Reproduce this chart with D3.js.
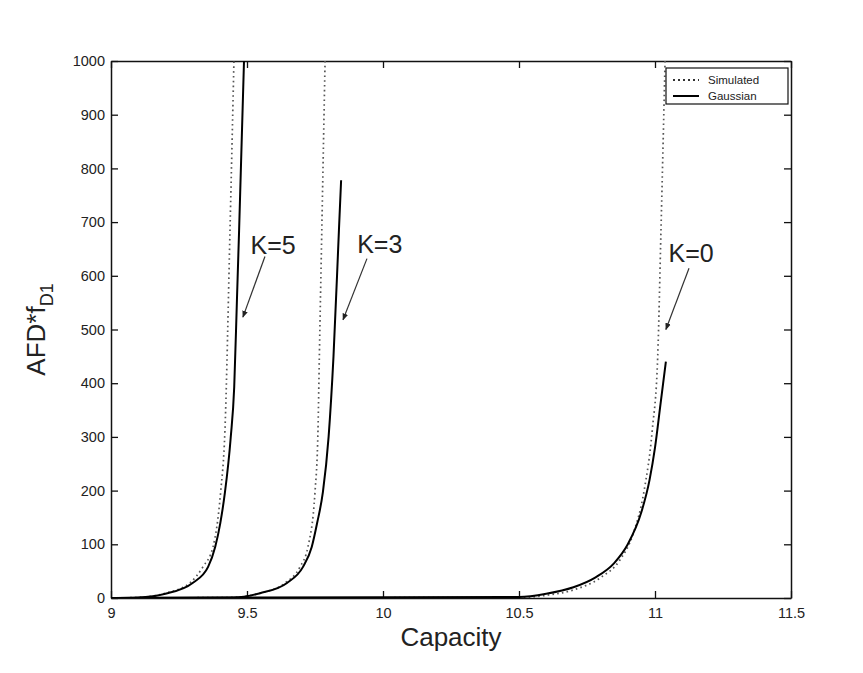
<!DOCTYPE html>
<html>
<head>
<meta charset="utf-8">
<script src="https://cdn.jsdelivr.net/npm/d3@7"></script>
<style>
  body { margin: 0; background: #fff; }
  svg { font-family: "Liberation Sans", Arial, sans-serif; }
  .axis path, .axis line { stroke: #111; }
  .axis text { fill: #222; font-size: 14.5px; }
</style>
</head>
<body>
<svg id="svg1" width="863" height="673"></svg>
<script>
// values
var capK5Gauss = [9.0, 9.1, 9.2, 9.3, 9.357, 9.383, 9.402, 9.419, 9.44, 9.453, 9.463, 9.471, 9.489];
var afdK5Gauss = [0, 1, 8, 28, 58, 95, 140, 197, 298, 393, 555, 685, 1000];
var capK5Sim = [9.0, 9.1, 9.2, 9.29, 9.338, 9.375, 9.403, 9.419, 9.4375, 9.452];
var afdK5Sim = [0, 1, 9, 28, 58, 95, 197, 313, 685, 1000];

var capK3Gauss = [9.0, 9.45, 9.548, 9.647, 9.706, 9.738, 9.758, 9.779, 9.8, 9.818, 9.838, 9.846];
var afdK3Gauss = [0, 1, 9, 28, 58, 95, 140, 197, 300, 450, 685, 778];
var capK3Sim = [9.0, 9.45, 9.548, 9.64, 9.695, 9.724, 9.75, 9.761, 9.766, 9.775, 9.787];
var afdK3Sim = [0, 1, 9, 28, 58, 95, 197, 313, 450, 685, 1000];

var capK0Gauss = [9.0, 10.5, 10.6, 10.7, 10.78, 10.85, 10.9, 10.95, 10.98, 11.0, 11.02, 11.04];
var afdK0Gauss = [0, 2, 8, 20, 38, 65, 100, 160, 220, 280, 360, 440];
var capK0Sim = [9.0, 10.5, 10.6, 10.7, 10.8, 10.87, 10.92, 10.96, 10.99, 11.01, 11.022, 11.037];
var afdK0Sim = [0, 1, 5, 15, 38, 70, 120, 200, 313, 450, 685, 1000];

var xTicks = [9, 9.5, 10, 10.5, 11, 11.5];
var yTicks = [0, 100, 200, 300, 400, 500, 600, 700, 800, 900, 1000];

var legendNames = ["Simulated", "Gaussian"];

// annotations: label, text position, arrow start, arrow tip (data units)
var noteLabels = ["K=5", "K=3", "K=0"];
var noteText = [[9.513, 640], [9.905, 642], [11.05, 626]];
var noteFrom = [[9.566, 636], [9.941, 632], [11.125, 614]];
var noteTip = [[9.485, 523], [9.853, 518], [11.04, 500]];

var translate = function(x, y) {
  return "translate(" + String(x) + ", " + String(y) + ")";
};

var zipSeries = function(xs, ys) {
  return xs.map(function(x, i) { return {x: x, y: ys[i]}; });
};

var svg = d3.select("svg#svg1");
var margin = {top: 61, left: 111};
var plotWidth = 680;
var plotHeight = 537;

var xScale = d3.scaleLinear().domain([9, 11.5]).range([0, plotWidth]);
var yScale = d3.scaleLinear().domain([0, 1000]).range([plotHeight, 0]);

var plot = svg.append("g")
  .attr("id", "plot")
  .attr("transform", translate(margin.left, margin.top));

plot.append("clipPath").attr("id", "clip")
  .append("rect").attr("width", plotWidth).attr("height", plotHeight);

/* axes, MATLAB box with inward ticks */
var fmt = function(d) { return String(d); };

plot.append("g").attr("class", "axis")
  .attr("transform", translate(0, plotHeight))
  .call(d3.axisBottom(xScale).tickValues(xTicks).tickFormat(fmt).tickSizeInner(-7).tickSizeOuter(0).tickPadding(10));

plot.append("g").attr("class", "axis")
  .call(d3.axisTop(xScale).tickValues(xTicks).tickFormat("").tickSizeInner(-7).tickSizeOuter(0));

plot.append("g").attr("class", "axis")
  .call(d3.axisLeft(yScale).tickValues(yTicks).tickFormat(fmt).tickSizeInner(-7).tickSizeOuter(0).tickPadding(6));

plot.append("g").attr("class", "axis")
  .attr("transform", translate(plotWidth, 0))
  .call(d3.axisRight(yScale).tickValues(yTicks).tickFormat("").tickSizeInner(-7).tickSizeOuter(0));

plot.selectAll(".axis path").attr("stroke-width", 1.5);
plot.selectAll(".axis line").attr("stroke-width", 1.3);

/* curves */
var line = d3.line()
  .x(function(d) { return xScale(d.x); })
  .y(function(d) { return yScale(d.y); })
  .curve(d3.curveMonotoneX);

var simulated = [zipSeries(capK5Sim, afdK5Sim), zipSeries(capK3Sim, afdK3Sim), zipSeries(capK0Sim, afdK0Sim)];
var gaussian = [zipSeries(capK5Gauss, afdK5Gauss), zipSeries(capK3Gauss, afdK3Gauss), zipSeries(capK0Gauss, afdK0Gauss)];

var curves = plot.append("g").attr("clip-path", "url(#clip)");

curves.selectAll("path.sim")
  .data(simulated)
  .enter()
  .append("path")
  .attr("class", "sim")
  .attr("d", line)
  .attr("fill", "none")
  .attr("stroke", "#555")
  .attr("stroke-width", 1.7)
  .attr("stroke-dasharray", "1.6,3.2");

curves.selectAll("path.gauss")
  .data(gaussian)
  .enter()
  .append("path")
  .attr("class", "gauss")
  .attr("d", line)
  .attr("fill", "none")
  .attr("stroke", "#000")
  .attr("stroke-width", 2);

/* annotations */
svg.append("defs").append("marker")
  .attr("id", "arrow")
  .attr("viewBox", "0 0 10 10")
  .attr("refX", 9).attr("refY", 5)
  .attr("markerWidth", 7).attr("markerHeight", 7)
  .attr("markerUnits", "userSpaceOnUse")
  .attr("orient", "auto")
  .append("path")
  .attr("d", "M0,1 L10,5 L0,9 Z")
  .attr("fill", "#222");

var notes = plot.append("g").attr("id", "notes");

noteLabels.forEach(function(label, i) {
  notes.append("line")
    .attr("x1", xScale(noteFrom[i][0])).attr("y1", yScale(noteFrom[i][1]))
    .attr("x2", xScale(noteTip[i][0])).attr("y2", yScale(noteTip[i][1]))
    .attr("stroke", "#333")
    .attr("stroke-width", 1.2)
    .attr("marker-end", "url(#arrow)");
  notes.append("text")
    .attr("x", xScale(noteText[i][0])).attr("y", yScale(noteText[i][1]))
    .attr("font-size", 25)
    .attr("fill", "#222")
    .text(label);
});

/* legend */
var legend = plot.append("g").attr("transform", translate(555, 7));
legend.append("rect")
  .attr("width", 122).attr("height", 36)
  .attr("fill", "#fff").attr("stroke", "#111").attr("stroke-width", 1.2);

legendNames.forEach(function(name, i) {
  var row = legend.append("g").attr("transform", translate(0, 12 + i * 16));
  row.append("line")
    .attr("x1", 7).attr("x2", 33)
    .attr("stroke", i === 0 ? "#333" : "#000")
    .attr("stroke-width", 2)
    .attr("stroke-dasharray", i === 0 ? "2,3" : null);
  row.append("text")
    .attr("x", 42).attr("y", 4)
    .attr("font-size", 11.5)
    .attr("fill", "#222")
    .text(name);
});

/* axis titles */
svg.append("text")
  .attr("x", margin.left + plotWidth / 2)
  .attr("y", 646)
  .attr("text-anchor", "middle")
  .attr("font-size", 26)
  .attr("fill", "#222")
  .text("Capacity");

var yTitle = svg.append("text")
  .attr("transform", translate(45, margin.top + plotHeight / 2) + " rotate(-90)")
  .attr("text-anchor", "middle")
  .attr("font-size", 26)
  .attr("fill", "#222");
yTitle.append("tspan").text("AFD*f");
yTitle.append("tspan").attr("font-size", 18).attr("dy", 8).text("D1");
</script>
</body>
</html>
